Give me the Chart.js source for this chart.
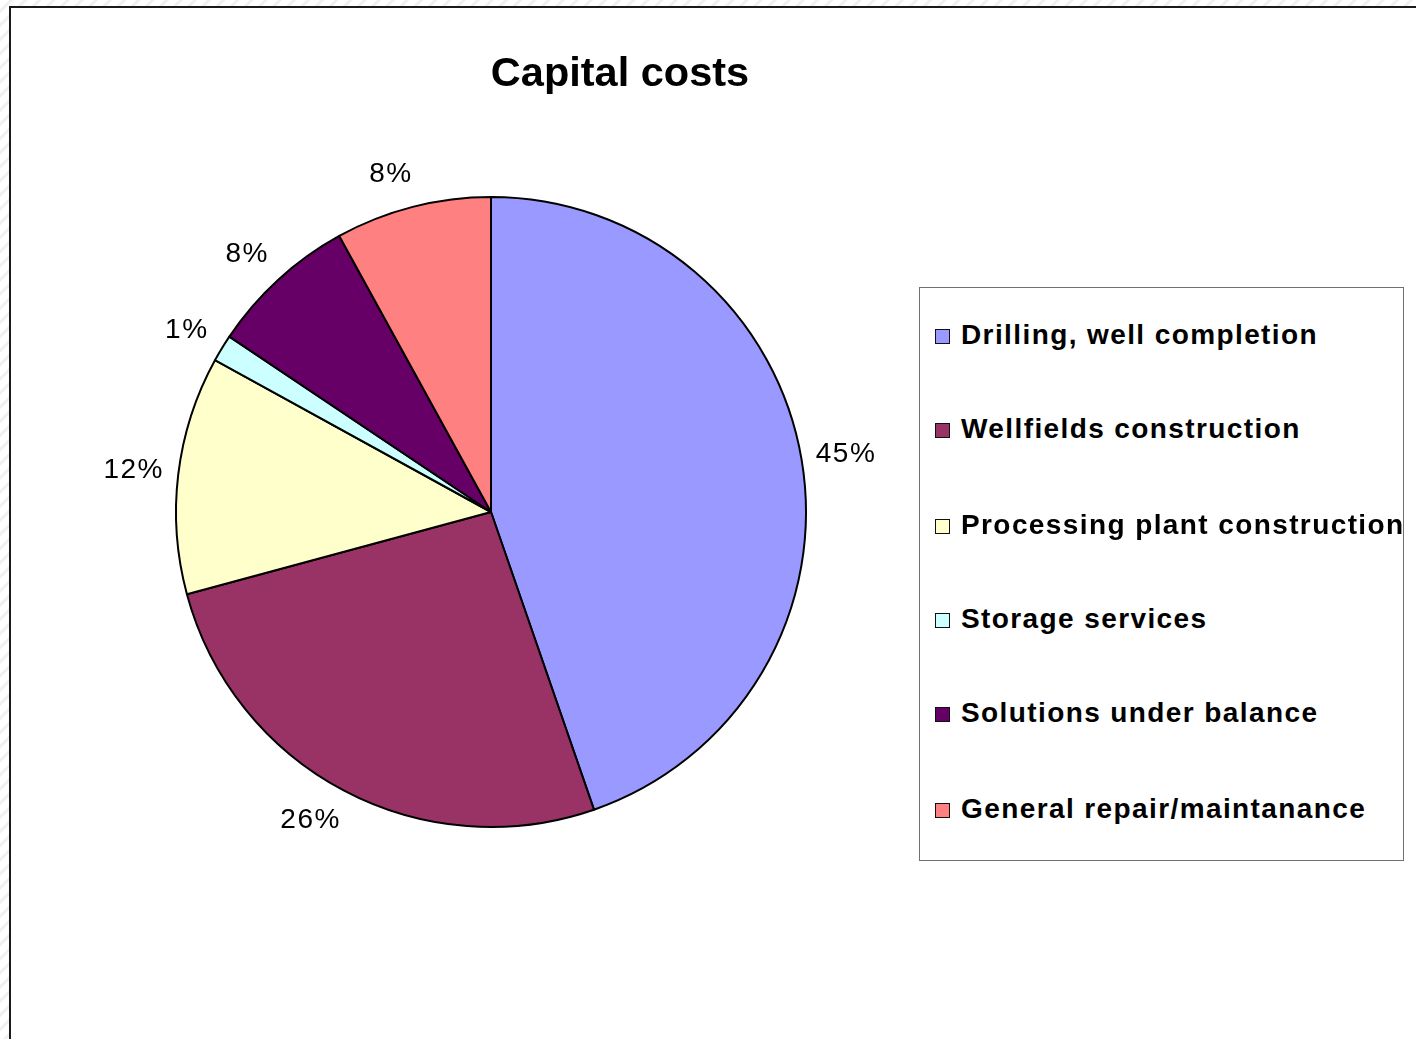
<!DOCTYPE html>
<html>
<head>
<meta charset="utf-8">
<script src="https://cdn.jsdelivr.net/npm/chart.js@4.4.1/dist/chart.umd.min.js"></script>
<style>
    html, body { margin: 0; padding: 0; width: 1416px; height: 1039px; overflow: hidden; }
    body {
        background: repeating-linear-gradient(135deg, #ffffff 0px, #ffffff 6px, #f0f0f0 7px, #f0f0f0 9px, #ffffff 10px);
        font-family: "Liberation Sans", Arial, sans-serif;
    }
    .frame {
        position: absolute; left: 9px; top: 6px; width: 1500px; height: 1100px;
        background: #fff; border-left: 2px solid #1a1a1a; border-top: 2px solid #1a1a1a;
    }
    #chart { position: absolute; left: 0; top: 0; }
    .title {
        position: absolute; left: 0; width: 1240px; top: 48px; text-align: center;
        font-size: 41.5px; font-weight: bold; color: #000;
    }
    .legend {
        position: absolute; left: 919px; top: 287px; width: 483px; height: 572px;
        border: 1px solid #707070; background: #fff;
    }
    .legend-item {
        position: absolute; left: 15px; height: 30px; line-height: 30px;
        font-size: 28px; font-weight: bold; letter-spacing: 1.4px; white-space: nowrap; color: #000;
    }
    .legend-item span.box {
        display: inline-block; width: 13px; height: 13px; border: 1.5px solid #111;
        margin-right: 11px; vertical-align: 0px;
    }
</style>
</head>
<body>
<div class="frame"></div>
<canvas id="chart" width="1416" height="1039"></canvas>
<div class="title">Capital costs</div>
<div class="legend" id="legend"></div>
<script>
// 数据
const categories = [
    'Drilling, well completion',
    'Wellfields construction',
    'Processing plant construction',
    'Storage services',
    'Solutions under balance',
    'General repair/maintanance'
];
const shares = [44.7, 26.1, 12.2, 1.4, 7.6, 8.0];
const sliceColors = ['#9999ff', '#993366', '#ffffcc', '#ccffff', '#660066', '#ff8080'];

// 百分比标签（放在扇区外侧）
const pctLabels = {
    id: 'pctLabels',
    afterDatasetsDraw(chart) {
        const ctx = chart.ctx;
        const meta = chart.getDatasetMeta(0);
        const data = chart.data.datasets[0].data;
        const total = data.reduce((a, b) => a + b, 0);
        ctx.save();
        ctx.font = '28px "Liberation Sans", Arial, sans-serif';
        ctx.letterSpacing = '1.5px';
        ctx.fillStyle = '#000';
        ctx.textAlign = 'center';
        ctx.textBaseline = 'middle';
        meta.data.forEach(function(arc, i) {
            const p = arc.getProps(['x', 'y', 'startAngle', 'endAngle', 'outerRadius'], true);
            const mid = (p.startAngle + p.endAngle) / 2;
            const cos = Math.cos(mid), sin = Math.sin(mid);
            const r = p.outerRadius + 22;
            const text = Math.round(data[i] / total * 100) + '%';
            const w = ctx.measureText(text).width;
            const h = 24;
            const tx = p.x + r * cos + (cos >= 0 ? 1 : -1) * 0.75 * w / 2;
            const ty = p.y + r * sin + sin * h / 2;
            ctx.fillText(text, tx, ty);
        });
        ctx.restore();
    }
};

const chart = new Chart(document.getElementById('chart').getContext('2d'), {
    type: 'pie',
    data: {
        labels: categories,
        datasets: [{
            data: shares,
            backgroundColor: sliceColors,
            borderColor: '#000',
            borderWidth: 2
        }]
    },
    options: {
        responsive: false,
        animation: false,
        events: [],
        layout: { padding: { left: 175, right: 609, top: 196, bottom: 211 } },
        plugins: {
            legend: { display: false },
            tooltip: { enabled: false }
        }
    },
    plugins: [pctLabels]
});

// 图例
const legendEl = document.getElementById('legend');
const legendTops = [32, 126, 222, 316, 410, 506];
categories.forEach(function(name, i) {
    const item = document.createElement('div');
    item.className = 'legend-item';
    item.style.top = legendTops[i] + 'px';
    item.innerHTML = '<span class="box" style="background:' + sliceColors[i] + '"></span>' + name;
    legendEl.appendChild(item);
});
</script>
</body>
</html>
